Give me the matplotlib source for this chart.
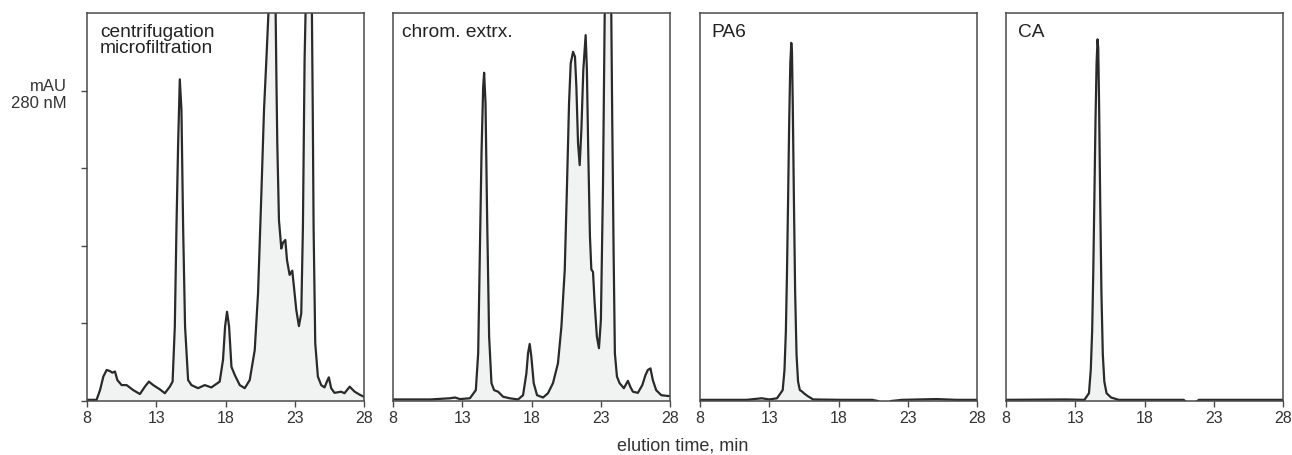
import matplotlib
matplotlib.use("Agg")
import matplotlib.pyplot as plt

plt.rcParams['font.family'] = ['Liberation Sans', 'DejaVu Sans']

# ---- data (elution time in min, absorbance in arbitrary units; 100 = top of plot) ----
titles = ["centrifugation\nmicrofiltration", "chrom. extrx.", "PA6", "CA"]

t_centrifugation = [8.0, 8.69, 8.94, 9.18, 9.42, 9.66, 9.83, 10.02, 10.19, 10.5, 10.86, 11.34,
                    11.82, 12.18, 12.47, 12.78, 13.26, 13.62, 13.98, 14.18, 14.34, 14.46, 14.58,
                    14.7, 14.82, 14.94, 15.08, 15.3, 15.54, 16.02, 16.5, 16.98, 17.58, 17.82,
                    17.97, 18.11, 18.26, 18.43, 18.67, 19.03, 19.39, 19.75, 20.11, 20.35, 20.59,
                    20.78, 20.95, 21.1, 21.25, 21.4, 21.52, 21.62, 21.68, 21.74, 21.86, 22.03,
                    22.15, 22.32, 22.44, 22.63, 22.82, 22.94, 23.11, 23.3, 23.47, 23.59, 23.71,
                    23.78, 23.9, 24.0, 24.12, 24.24, 24.3, 24.36, 24.48, 24.67, 24.91, 25.15,
                    25.32, 25.46, 25.63, 25.87, 26.35, 26.59, 26.88, 26.97, 27.1, 27.33, 27.7,
                    28.0]
a_centrifugation = [0.3, 0.3, 2.8, 6.3, 8.0, 7.7, 7.3, 7.6, 5.4, 4.1, 4.1, 2.8,
                    1.8, 3.7, 5.0, 4.1, 3.0, 2.0, 3.7, 5.0, 19.2, 44.9, 66.4,
                    82.9, 75.0, 44.9, 19.2, 5.4, 4.1, 3.3, 4.1, 3.5, 5.0, 10.6,
                    19.2, 23.0, 19.2, 8.8, 6.7, 4.1, 3.3, 5.4, 13.1, 27.8, 53.5,
                    75.0, 87.9, 100.0, 115.0, 125.0, 115.0, 100.0, 82.0, 66.4, 46.6, 39.3,
                    40.8, 41.5, 36.3, 32.5, 33.6, 29.5, 23.5, 19.3, 22.6, 44.9, 87.9,
                    100.0, 125.0, 140.0, 125.0, 100.0, 75.0, 44.9, 14.9, 6.3, 4.1, 3.5,
                    5.0, 6.1, 3.3, 2.1, 2.4, 2.0, 3.3, 3.7, 3.2, 2.4, 1.6,
                    1.1]

t_chrom = [8.0, 10.69, 12.1, 12.48, 12.83, 13.55, 13.98, 14.15, 14.27, 14.39, 14.51, 14.58,
           14.68, 14.8, 14.94, 15.11, 15.3, 15.59, 15.95, 16.43, 17.03, 17.39, 17.63, 17.75,
           17.87, 17.99, 18.16, 18.4, 18.83, 19.19, 19.55, 19.91, 20.16, 20.4, 20.56, 20.71,
           20.83, 21.0, 21.14, 21.24, 21.36, 21.48, 21.6, 21.74, 21.91, 22.0, 22.1, 22.22,
           22.32, 22.44, 22.56, 22.72, 22.87, 23.01, 23.16, 23.28, 23.4, 23.55, 23.68, 23.76,
           23.83, 23.93, 24.02, 24.17, 24.36, 24.67, 24.96, 25.13, 25.32, 25.68, 26.0, 26.23,
           26.4, 26.59, 26.76, 27.0, 27.37, 27.84, 28.0]
a_chrom = [0.4, 0.4, 0.7, 0.9, 0.5, 0.7, 2.8, 12.3, 38.0, 63.8, 81.0, 84.6,
           76.7, 46.6, 16.6, 4.6, 2.8, 2.4, 1.1, 0.7, 0.4, 1.5, 7.1, 12.3,
           14.7, 11.4, 4.6, 1.5, 0.9, 2.0, 4.6, 9.7, 19.2, 33.8, 55.2, 76.7,
           87.0, 90.0, 88.7, 81.0, 66.4, 60.8, 69.8, 85.3, 94.3, 85.3, 63.8, 42.4,
           33.9, 33.3, 25.2, 16.6, 13.6, 20.9, 55.2, 98.0, 130.0, 150.0, 130.0, 100.0,
           72.4, 38.0, 12.3, 6.3, 4.6, 3.3, 5.2, 3.7, 2.4, 2.1, 4.1, 6.7,
           8.0, 8.4, 5.4, 2.8, 1.5, 1.3, 1.3]

t_pa6 = [8.0, 11.36, 11.9, 12.46, 13.0, 13.56, 13.97, 14.1, 14.2, 14.28, 14.36, 14.44,
         14.52, 14.59, 14.64, 14.7, 14.78, 14.87, 14.97, 15.08, 15.21, 15.35, 15.5, 15.76,
         16.17, 18.23, 20.43, 20.84, 21.1, 21.6, 21.8, 22.6, 25.1, 26.5, 28.0]
a_pa6 = [0.3, 0.3, 0.5, 0.7, 0.4, 0.7, 2.8, 8.0, 18.0, 33.0, 52.0, 72.0,
         87.0, 92.3, 90.0, 76.0, 52.0, 28.0, 12.0, 5.0, 2.8, 2.5, 2.0, 1.3,
         0.4, 0.3, 0.3, 0.0, -0.6, -0.6, 0.0, 0.3, 0.5, 0.3, 0.3]

t_ca = [8.0, 12.28, 13.66, 13.99, 14.12, 14.22, 14.3, 14.38, 14.46, 14.54, 14.61, 14.66,
        14.72, 14.8, 14.89, 14.99, 15.1, 15.26, 15.59, 16.14, 20.0, 20.83, 21.1, 21.6,
        21.93, 28.0]
a_ca = [0.3, 0.4, 0.3, 2.0, 8.0, 18.0, 33.0, 52.0, 72.0, 87.0, 93.2, 91.0,
        77.0, 52.0, 28.0, 12.0, 5.0, 2.0, 0.9, 0.3, 0.3, 0.3, -0.6, -0.6,
        0.3, 0.3]

x_ticks = [8, 13, 18, 23, 28]
y_ticks = [0, 20, 40, 60, 80]

series = [(t_centrifugation, a_centrifugation), (t_chrom, a_chrom),
          (t_pa6, a_pa6), (t_ca, a_ca)]

# ---- figure ----
W, H = 1292, 455
fig = plt.figure(figsize=(W / 100, H / 100), dpi=100)
lefts = [87, 393, 700, 1006]
title_dx = [13, 9, 11, 12]
ax_w, ax_top, ax_bot = 277, 13, 401
ax_h = ax_bot - ax_top

line_c = '#2a2a2a'
spine_c = '#4a4a4a'
fill_c = '#f1f3f2'

for i, ((t, a), title) in enumerate(zip(series, titles)):
    ax = fig.add_axes([lefts[i] / W, (H - ax_bot) / H, ax_w / W, ax_h / H])
    ax.fill_between(t, 0, a, color=fill_c, lw=0, zorder=1)
    ax.plot(t, a, color=line_c, lw=1.6, solid_joinstyle='round', zorder=2)
    ax.set_xlim(8, 28)
    ax.set_ylim(0, 100)
    ax.set_xticks(x_ticks)
    ax.set_xticklabels([str(v) for v in x_ticks])
    ax.tick_params(axis='x', direction='out', length=4, width=1, color=spine_c,
                   labelsize=11.5, labelcolor='#333333', pad=3)
    if i == 0:
        ax.set_yticks(y_ticks)
        ax.set_yticklabels([])
        ax.tick_params(axis='y', direction='out', length=4, width=1, color=spine_c)
    else:
        ax.set_yticks([])
    for s in ax.spines.values():
        s.set_color(spine_c)
        s.set_linewidth(1.1)
    ax.text(title_dx[i] / ax_w, 1 - 11 / ax_h, title, transform=ax.transAxes,
            ha='left', va='top', fontsize=13.8, color='#222222', linespacing=0.95)

fig.text(67 / W, 1 - 79 / H, "mAU\n280 nM", ha='right', va='top',
         fontsize=12, color='#333333', linespacing=1.15)
fig.text(683 / W, 1 - 446 / H, "elution time, min", ha='center', va='center',
         fontsize=13, color='#333333')

fig.savefig("out.png", dpi=100)
